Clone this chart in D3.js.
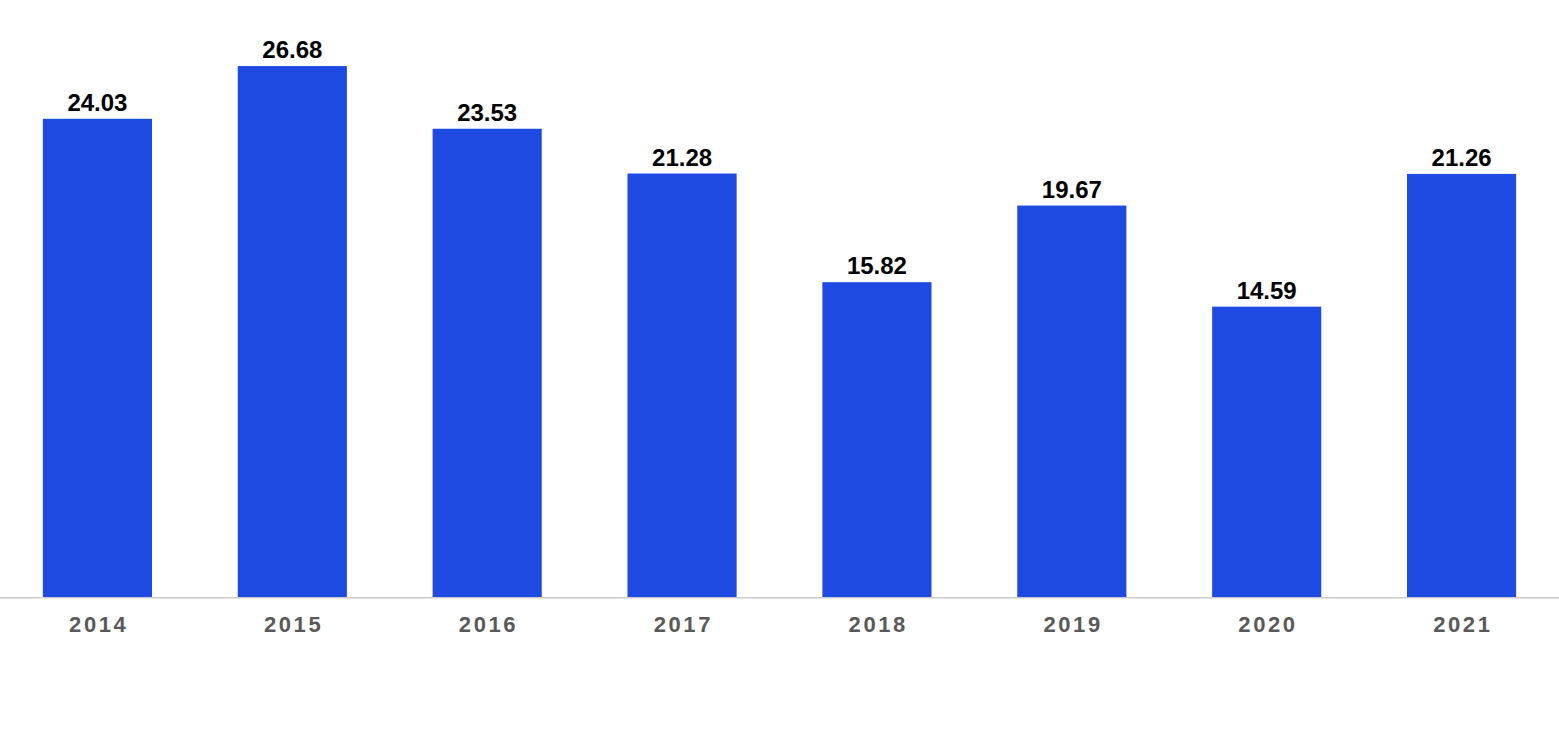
<!DOCTYPE html>
<html>
<head>
<meta charset="utf-8">
<script src="https://cdn.jsdelivr.net/npm/d3@7"></script>
<style>
  html, body { margin: 0; padding: 0; background: #fff; }
  svg { display: block; }
</style>
</head>
<body>
<script>
const years = ["2014", "2015", "2016", "2017", "2018", "2019", "2020", "2021"];
const values = [24.03, 26.68, 23.53, 21.28, 15.82, 19.67, 14.59, 21.26];
const labels = ["24.03", "26.68", "23.53", "21.28", "15.82", "19.67", "14.59", "21.26"];

const W = 1559, H = 742;
const baseY = 597;

const svg = d3.select("body").append("svg").attr("width", W).attr("height", H);

const x = d3.scaleBand().domain(years).range([0, W]).paddingInner(0.44).paddingOuter(0.22);
const y = d3.scaleLinear().domain([0, 30]).range([baseY, 0]);

svg.append("g").selectAll("rect")
  .data(years)
  .join("rect")
  .attr("x", d => x(d))
  .attr("width", x.bandwidth())
  .attr("y", (d, i) => y(values[i]))
  .attr("height", (d, i) => baseY - y(values[i]))
  .attr("fill", "#1f4ae2");

svg.append("g").selectAll("text")
  .data(years)
  .join("text")
  .attr("x", d => x(d) + x.bandwidth() / 2)
  .attr("y", (d, i) => y(values[i]) - 8)
  .attr("text-anchor", "middle")
  .attr("font-family", "'Liberation Sans', Arial, sans-serif")
  .attr("font-weight", "bold")
  .attr("font-size", "24px")
  .attr("fill", "#000")
  .text((d, i) => labels[i]);

const axis = svg.append("g")
  .attr("transform", `translate(0,${baseY})`)
  .call(d3.axisBottom(x).tickSize(0).tickPadding(0));
axis.select(".domain").attr("stroke", "#cccccc").attr("stroke-width", 1.5)
  .attr("d", `M0,0.75H${W}`);
axis.selectAll(".tick text")
  .attr("y", 35)
  .attr("dy", null)
  .attr("dx", "1.3px")
  .attr("font-family", "'Liberation Sans', Arial, sans-serif")
  .attr("font-weight", "bold")
  .attr("font-size", "22px")
  .attr("letter-spacing", "2.6px")
  .attr("fill", "#595959");
</script>
</body>
</html>
